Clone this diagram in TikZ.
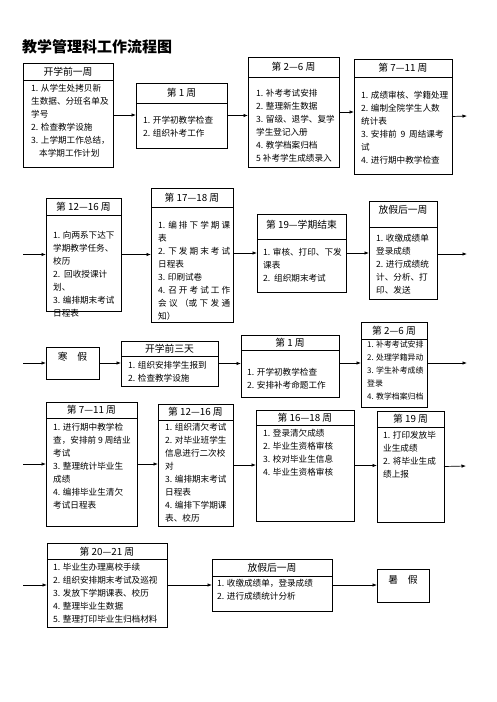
\documentclass[tikz,border=0pt]{standalone}
\usepackage{fontspec}
\setmainfont{Noto Sans CJK SC}
\usetikzlibrary{arrows.meta}
\newcommand\bx[5]{\node[boxst,minimum width={#4-#2},minimum height={#5-#3}] (#1) at (#2,#3) {};}
\newcommand\dv[2]{\draw[edge] (#1.west |- 0,#2) -- (#1.east |- 0,#2);}
\newcommand\hd[3]{\node[hdst] (#1h) at (#1.north |- 0,#2) {#3};}
\newcommand\bd[4]{\node[bdst] (#1b) at (#2,#3) {#4};}
\newcommand\spr[1]{\makebox[72pt][s]{#1}}
\begin{document}
\begin{tikzpicture}[x=1pt,y=-1pt,
  boxst/.style={draw=black,line width=0.7pt,anchor=north west,inner sep=0pt,outer sep=0pt},
  edge/.style={draw=black,line width=0.7pt},
  hdst/.style={inner sep=0pt,font=\fontsize{9.8}{12}\selectfont},
  bdst/.style={anchor=north west,inner sep=0pt,align=left,font=\fontsize{8.6}{13}\selectfont},
  arr/.style={draw=black,line width=0.7pt,-{Latex[length=4.5pt,width=3.5pt]}}]
\useasboundingbox (0,0) rectangle (496,702);
\node[anchor=west,inner sep=0pt,font=\fontsize{15}{18}\selectfont\bfseries] (title) at (22,47) {教学管理科工作流程图};
% Row 1
\bx{A}{23}{63}{113}{167}\dv{A}{80}\hd{A}{72}{开学前一周}
\bd{A}{31}{83.8}{1. 从学生处拷贝新\\生数据、分班名单及\\学号\\2. 检查教学设施\\3. 上学期工作总结，\\\hspace*{8pt}本学期工作计划}
\bx{B}{136}{83}{227}{148}\dv{B}{103}\hd{B}{93}{第 1 周}
\bd{B}{143}{115.8}{1. 开学初教学检查\\2. 组织补考工作}
\bx{C}{248}{57}{339}{167}\dv{C}{77}\hd{C}{67}{第 2—6 周}
\bd{C}{256}{88.8}{1. 补考考试安排\\2. 整理新生数据\\3. 留级、退学、复学\\学生登记入册\\4. 教学档案归档\\5 补考学生成绩录入}
\bx{D}{354}{59}{452}{174}\dv{D}{77}\hd{D}{68}{第 7—11 周}
\bd{D}{361}{90.8}{1. 成绩审核、学籍处理\\2. 编制全院学生人数\\统计表\\3. 安排前\ \ 9\ \ 周结课考\\试\\4. 进行期中教学检查}
\coordinate (r1e) at (467,116);
\draw[arr] (A.east) -- (A.east -| B.west);
\draw[arr] (B.east) -- (B.east -| C.west);
\draw[arr] (C.east) -- (C.east -| D.west);
\draw[arr] (D.east) -- (r1e);
% Row 2
\bx{E}{46}{198}{121}{311}\dv{E}{215}\hd{E}{207}{第 12—16 周}
\bd{E}{53}{230.8}{1. 向两系下达下\\学期教学任务、\\校历\\2.\ \ 回收授课计\\划、\\3. 编排期末考试\\日程表}
\bx{F}{151}{188}{233}{322}\dv{F}{207}\hd{F}{198}{第 17—18 周}
\bd{F}{158}{220.8}{\spr{1. 编 排 下 学 期 课}\\表\\\spr{2. 下 发 期 末 考 试}\\日程表\\3. 印刷试卷\\\spr{4. 召 开 考 试 工 作}\\\spr{会 议 （或 下 发 通}\\知）}
\bx{G}{257}{214}{346}{292}\dv{G}{239}\hd{G}{225}{第 19—学期结束}
\bd{G}{263}{247.8}{1. 审核、打印、下发\\课表\\2.\ \ 组织期末考试}
\bx{H}{369}{201}{437}{299}\dv{H}{227}\hd{H}{210}{放假后一周}
\bd{H}{376}{233.8}{1. 收缴成绩单\\登录成绩\\2. 进行成绩统\\计、分析、打\\印、发送}
\coordinate (r2s) at (23,254.5);
\coordinate (r2e) at (467,254);
\draw[arr] (r2s) -- (r2s -| E.west);
\draw[arr] (E.east) -- (E.east -| F.west);
\draw[arr] (F.east |- G.east) -- (G.west);
\draw[arr] (G.east) -- (G.east -| H.west);
\draw[arr] (H.east |- r2e) -- (r2e);
% Row 3
\bx{I}{46}{347}{99}{379}\node[hdst] (Ih) at (72.5,357) {寒\quad 假};
\bx{J}{121}{341}{218}{386}\dv{J}{356}\hd{J}{349}{开学前三天}
\bd{J}{128}{360.8}{1. 组织安排学生报到\\2. 检查教学设施}
\bx{K}{241}{335}{339}{397}\dv{K}{350}\hd{K}{343}{第 1 周}
\bd{K}{247}{367.8}{1. 开学初教学检查\\2. 安排补考命题工作}
\bx{L}{361}{322}{427}{407}\dv{L}{339}\hd{L}{331}{第 2—6 周}
\node[bdst,font=\fontsize{7.9}{13}\selectfont] (Lb) at (367,341) {1. 补考考试安排\\2. 处理学籍异动\\3. 学生补考成绩\\登录\\4. 教学档案归档};
\coordinate (r3s) at (23,363);
\coordinate (r3e) at (467,363);
\draw[arr] (r3s) -- (r3s -| I.west);
\draw[arr] (I.east) -- (I.east -| J.west);
\draw[arr] (J.east) -- (J.east -| K.west);
\draw[arr] (K.east |- r3e) -- (r3e -| L.west);
\draw[arr] (L.east |- r3e) -- (r3e);
% Row 4
\bx{M}{46}{402}{137}{526}\dv{M}{418}\hd{M}{410}{第 7—11 周}
\bd{M}{53}{422.8}{1. 进行期中教学检\\查，安排前 9 周结业\\考试\\3. 整理统计毕业生\\成绩\\4. 编排毕业生清欠\\考试日程表}
\bx{N}{158}{404}{233}{526}\dv{N}{420}\hd{N}{412}{第 12—16 周}
\bd{N}{165}{422.8}{1. 组织清欠考试\\2. 对毕业班学生\\信息进行二次校\\对\\3. 编排期末考试\\日程表\\4. 编排下学期课\\表、校历}
\bx{O}{256}{410}{354}{521}\dv{O}{425}\hd{O}{418}{第 16—18 周}
\bd{O}{263}{428.8}{1. 登录清欠成绩\\2. 毕业生资格审核\\3. 校对毕业生信息\\4. 毕业生资格审核}
\bx{P}{377}{411}{444}{522}\dv{P}{427}\hd{P}{419}{第 19 周}
\bd{P}{383}{430.8}{1. 打印发放毕\\业生成绩\\2. 将毕业生成\\绩上报}
\coordinate (r4s) at (23,464);
\coordinate (r4e) at (466,466);
\draw[arr] (r4s) -- (r4s -| M.west);
\draw[arr] (M.east) -- (M.east -| N.west);
\draw[arr] (N.east) -- (N.east -| O.west);
\draw[arr] (O.east) -- (O.east -| P.west);
\draw[arr] (P.east) -- (r4e);
% Row 5
\bx{Q}{47}{543}{167}{627}\dv{Q}{559}\hd{Q}{552}{第 20—21 周}
\bd{Q}{53}{562.8}{1. 毕业生办理离校手续\\2. 组织安排期末考试及巡视\\3. 发放下学期课表、校历\\4. 整理毕业生数据\\5. 整理打印毕业生归档材料}
\bx{R}{212}{559}{332}{611}\dv{R}{576}\hd{R}{568}{放假后一周}
\bd{R}{217}{578.8}{1. 收缴成绩单，登录成绩\\2. 进行成绩统计分析}
\bx{S}{377}{569}{429}{602}\node[hdst] (Sh) at (403,580) {暑\quad 假};
\coordinate (r5s) at (23,585);
\draw[arr] (r5s) -- (r5s -| Q.west);
\draw[arr] (Q.east) -- (Q.east -| R.west);
\draw[arr] (R.east) -- (R.east -| S.west);
\end{tikzpicture}
\end{document}
